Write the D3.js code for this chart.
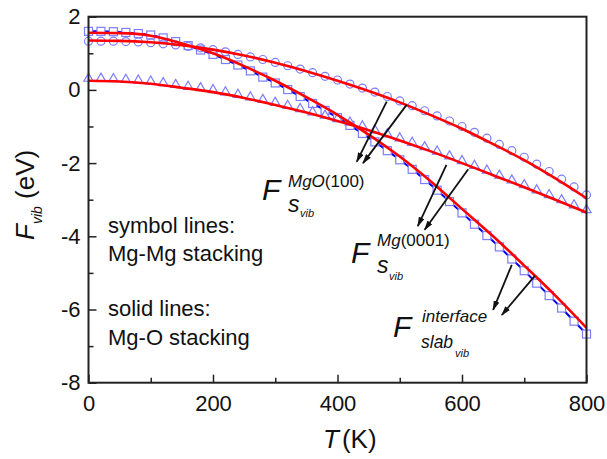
<!DOCTYPE html>
<html><head><meta charset="utf-8">
<script src="https://cdn.jsdelivr.net/npm/d3@7"></script>
<style>
body{margin:0;background:#fff}
svg{display:block}
text{font-family:"Liberation Sans",Arial,sans-serif;fill:#111}
</style>
</head><body>
<svg id="c" width="607" height="459"></svg>
<script>
// ---- data ----
const tLine = [0,50,100,150,200,250,300,350,400,450,500,550,600,650,700,750,800];
const interfaceSolid = [1.56,1.55,1.48,1.27,1.0,0.65,0.25,-0.2,-0.68,-1.22,-1.82,-2.5,-3.25,-4.0,-4.8,-5.62,-6.5];
const mgoSolid = [1.35,1.34,1.3,1.22,1.1,0.94,0.74,0.51,0.25,-0.03,-0.34,-0.69,-1.06,-1.48,-1.92,-2.42,-2.96];
const mgSolid = [0.25,0.23,0.17,0.06,-0.06,-0.22,-0.41,-0.62,-0.85,-1.1,-1.38,-1.68,-2.0,-2.33,-2.66,-3.0,-3.35];

const tSym = [0,20,40,60,80,100,120,140,160,180,200,220,240,260,280,300,320,340,360,380,400,
              420,440,460,480,500,520,540,560,580,600,620,640,660,680,700,720,740,760,780,800];
const interfaceSym = [1.60,1.60,1.59,1.57,1.54,1.50,1.42,1.32,1.21,1.09,0.97,0.83,0.68,0.52,0.35,0.19,0.01,-0.18,-0.37,-0.56,-0.76,
                      -0.97,-1.19,-1.42,-1.66,-1.91,-2.17,-2.45,-2.74,-3.05,-3.36,-3.67,-3.98,-4.29,-4.62,-4.94,-5.28,-5.62,-5.96,-6.32,-6.67];
const mgoSym = [1.33,1.33,1.33,1.32,1.31,1.29,1.26,1.23,1.19,1.15,1.10,1.04,0.97,0.90,0.83,0.75,0.66,0.57,0.47,0.37,0.27,
                0.16,0.05,-0.06,-0.18,-0.30,-0.43,-0.57,-0.71,-0.85,-1.00,-1.16,-1.32,-1.49,-1.66,-1.84,-2.03,-2.23,-2.44,-2.65,-2.87];
const mgSym = [0.31,0.31,0.30,0.28,0.26,0.23,0.19,0.14,0.09,0.05,0.0,-0.06,-0.13,-0.20,-0.27,-0.35,-0.43,-0.52,-0.61,-0.70,-0.79,
               -0.89,-0.99,-1.10,-1.21,-1.32,-1.44,-1.56,-1.68,-1.81,-1.94,-2.07,-2.20,-2.34,-2.47,-2.60,-2.74,-2.87,-3.01,-3.15,-3.28];

const xMajor = [0,200,400,600,800];
const xMinor = [100,300,500,700];
const yMajor = [-8,-6,-4,-2,0,2];
const yMinor = [-7,-5,-3,-1,1];

// arrows in data units: [T0,F0,T1,F1]
const arrows = [
  [479,-0.32,431,-1.96],
  [511,-0.41,441,-2.00],
  [575,-2.05,529,-3.72],
  [610,-2.17,540,-3.82],
  [680,-4.78,650,-6.01],
  [717,-5.08,664,-6.15]
];

// ---- layout ----
const L = 88.5, R = 586.5, Tp = 16.7, B = 382.7;
const svg = d3.select("#c");
const x = d3.scaleLinear().domain([0,800]).range([L,R]);
const y = d3.scaleLinear().domain([-8,2]).range([B,Tp]);

const defs = svg.append("defs");
defs.append("marker").attr("id","ah").attr("viewBox","0 0 10 6")
  .attr("markerWidth",10).attr("markerHeight",6).attr("refX",9).attr("refY",3)
  .attr("markerUnits","userSpaceOnUse").attr("orient","auto")
  .append("path").attr("d","M0,0 L10,3 L0,6 Z").attr("fill","#111");

// axes
function styleAxis(g){ g.select(".domain").remove(); g.selectAll("line").attr("stroke","#222").attr("stroke-width",1.5); }
svg.append("g").attr("transform",`translate(${L},0)`)
  .call(d3.axisLeft(y).tickValues(yMajor).tickSize(-8).tickPadding(8).tickFormat(d=>String(d)))
  .call(styleAxis)
  .call(g=>g.selectAll("text").attr("font-size",22).attr("fill","#111").style("font-family","Liberation Sans, Arial, sans-serif"));
svg.append("g").attr("transform",`translate(${L},0)`)
  .call(d3.axisLeft(y).tickValues(yMinor).tickSize(-5).tickFormat(""))
  .call(styleAxis);
svg.append("g").attr("transform",`translate(0,${B})`)
  .call(d3.axisBottom(x).tickValues(xMajor).tickSize(-8).tickPadding(13).tickFormat(d=>String(d)))
  .call(styleAxis)
  .call(g=>g.selectAll("text").attr("font-size",22).attr("fill","#111").style("font-family","Liberation Sans, Arial, sans-serif"));
svg.append("g").attr("transform",`translate(0,${B})`)
  .call(d3.axisBottom(x).tickValues(xMinor).tickSize(-5).tickFormat(""))
  .call(styleAxis);

// symbol series
const sqLine = d3.line().x((d,i)=>x(tSym[i])).y(d=>y(d));
svg.append("path").attr("d",sqLine(interfaceSym)).attr("fill","none").attr("stroke","#0000ee").attr("stroke-width",2);
const mcol = "#7d7dff";
svg.append("g").selectAll("rect").data(interfaceSym).join("rect")
  .attr("x",(d,i)=>x(tSym[i])-4).attr("y",d=>y(d)-4).attr("width",8).attr("height",8)
  .attr("fill","#fff").attr("stroke",mcol).attr("stroke-width",1.2);
svg.append("g").selectAll("circle").data(mgoSym).join("circle")
  .attr("cx",(d,i)=>x(tSym[i])).attr("cy",d=>y(d)).attr("r",4)
  .attr("fill","none").attr("stroke",mcol).attr("stroke-width",1.2);
const tri = d3.symbol().type(d3.symbolTriangle).size(38);
svg.append("g").selectAll("path").data(mgSym).join("path")
  .attr("d",tri).attr("transform",(d,i)=>`translate(${x(tSym[i])},${y(d)})`)
  .attr("fill","#fff").attr("stroke",mcol).attr("stroke-width",1.2);

// solid lines
const sl = d3.line().x((d,i)=>x(tLine[i])).y(d=>y(d)).curve(d3.curveMonotoneX);
[interfaceSolid,mgoSolid,mgSolid].forEach(s=>{
  svg.append("path").attr("d",sl(s)).attr("fill","none").attr("stroke","#ff0000").attr("stroke-width",2.6);
});

// arrows
svg.append("g").selectAll("line").data(arrows).join("line")
  .attr("x1",d=>x(d[0])).attr("y1",d=>y(d[1])).attr("x2",d=>x(d[2])).attr("y2",d=>y(d[3]))
  .attr("stroke","#111").attr("stroke-width",1.8).attr("marker-end","url(#ah)");

// frame
svg.append("rect").attr("x",L).attr("y",Tp).attr("width",R-L).attr("height",B-Tp)
  .attr("fill","none").attr("stroke","#222").attr("stroke-width",2);

// text helpers
function txt(xp,yp,s,size,italic){
  return svg.append("text").attr("x",xp).attr("y",yp).attr("font-size",size)
    .attr("font-style",italic?"italic":"normal").text(s);
}
// legend text
txt(108,233,"symbol lines:",22,false);
txt(108,261,"Mg-Mg stacking",22,false);
txt(108,316,"solid lines:",22,false);
txt(108,345,"Mg-O stacking",22,false);

// labels
txt(262,200,"F",30,true);
const t1 = svg.append("text").attr("x",288).attr("y",187).attr("font-size",17);
t1.append("tspan").attr("font-style","italic").text("MgO");
t1.append("tspan").text("(100)");
txt(288,212,"s",23,true);
txt(300,217,"vib",11,true);

txt(351,263,"F",30,true);
const t2 = svg.append("text").attr("x",377).attr("y",246).attr("font-size",17);
t2.append("tspan").attr("font-style","italic").text("Mg");
t2.append("tspan").text("(0001)");
txt(377,273,"s",23,true);
txt(389,280,"vib",11,true);

txt(393,337,"F",30,true);
txt(422,322,"interface",17,true);
txt(421,348,"slab",17.5,true);
txt(455,357,"vib",11,true);

// axis titles
const xt = svg.append("text").attr("x",323).attr("y",448).attr("font-size",26);
xt.append("tspan").attr("font-style","italic").text("T");
xt.append("tspan").attr("dx",3).text("(K)");

const yt = svg.append("text").attr("transform","translate(34,240) rotate(-90)").attr("font-size",26);
yt.append("tspan").attr("font-style","italic").text("F");
yt.append("tspan").attr("font-style","italic").attr("font-size",14).attr("dy",8).text("vib");
yt.append("tspan").attr("dy",-8).text(" (eV)");
</script>
</body></html>
